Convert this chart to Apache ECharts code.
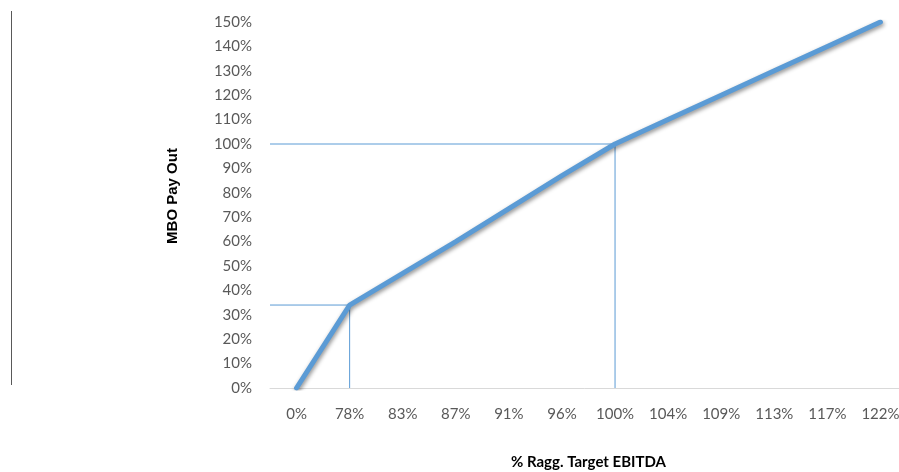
<!DOCTYPE html>
<html>
<head>
<meta charset="utf-8">
<script src="https://cdn.jsdelivr.net/npm/echarts@6/dist/echarts.min.js"></script>
<style>
  html, body { margin: 0; padding: 0; background: #fff; }
  #main { width: 899px; height: 472px; }
</style>
</head>
<body>
<div id="main"></div>
<script>
var categories = ['0%', '78%', '83%', '87%', '91%', '96%', '100%', '104%', '109%', '113%', '117%', '122%'];
var payout = [0, 34, 47, 60, 73.5, 87, 100, 110, 120, 130, 140, 150];
// guide lines: [category position, payout]
var guideLow = [[-0.5, 34], [1, 34], [1, 0]];
var guideTarget = [[-0.5, 100], [6, 100], [6, 0]];

var blue = '#5b9bd5';
var labelFont = 'Lato, "Open Sans", sans-serif';

var myChart = echarts.init(document.getElementById('main'));

var option = {
    animation: false,
    grid: { left: 270, width: 637, top: 22, height: 366, containLabel: false, outerBoundsMode: 'none' },
    xAxis: [{
        type: 'category',
        data: categories,
        boundaryGap: true,
        axisLine: { lineStyle: { color: '#d9d9d9', width: 1 } },
        axisTick: { show: false },
        axisLabel: { color: '#595959', fontSize: 15, fontFamily: labelFont, margin: 19 },
        name: '% Ragg. Target EBITDA',
        nameLocation: 'middle',
        nameGap: 67,
        nameTextStyle: { color: '#000', fontSize: 15, fontWeight: 'bold', fontFamily: labelFont }
    }, {
        type: 'value',
        min: -0.5,
        max: 11.5,
        show: false
    }],
    yAxis: {
        type: 'value',
        min: 0,
        max: 150,
        interval: 10,
        splitLine: { show: false },
        axisLine: { show: false },
        axisTick: { show: false },
        axisLabel: { color: '#595959', fontSize: 15, fontFamily: labelFont, margin: 18, formatter: '{value}%' }
    },
    series: [{
        type: 'line',
        xAxisIndex: 1,
        data: guideLow,
        symbol: 'none',
        lineStyle: { color: blue, width: 1 },
        z: 1
    }, {
        type: 'line',
        xAxisIndex: 1,
        data: guideTarget,
        symbol: 'none',
        lineStyle: { color: blue, width: 1 },
        z: 1
    }, {
        name: 'MBO Pay Out',
        type: 'line',
        data: payout,
        symbol: 'none',
        lineStyle: {
            color: blue,
            width: 5,
            cap: 'round',
            shadowColor: 'rgba(0,0,0,0.45)',
            shadowBlur: 4,
            shadowOffsetX: 1,
            shadowOffsetY: 2
        },
        z: 3
    }],
    graphic: [{
        type: 'line',
        shape: { x1: 11.5, y1: 11, x2: 11.5, y2: 385 },
        style: { stroke: '#595959', lineWidth: 1 }
    }, {
        type: 'text',
        x: 173,
        y: 196,
        rotation: Math.PI / 2,
        style: {
            text: 'MBO Pay Out',
            fill: '#000',
            font: 'bold 15px "Liberation Sans", Arial, sans-serif',
            align: 'center',
            verticalAlign: 'middle'
        }
    }]
};
myChart.setOption(option);
</script>
</body>
</html>
